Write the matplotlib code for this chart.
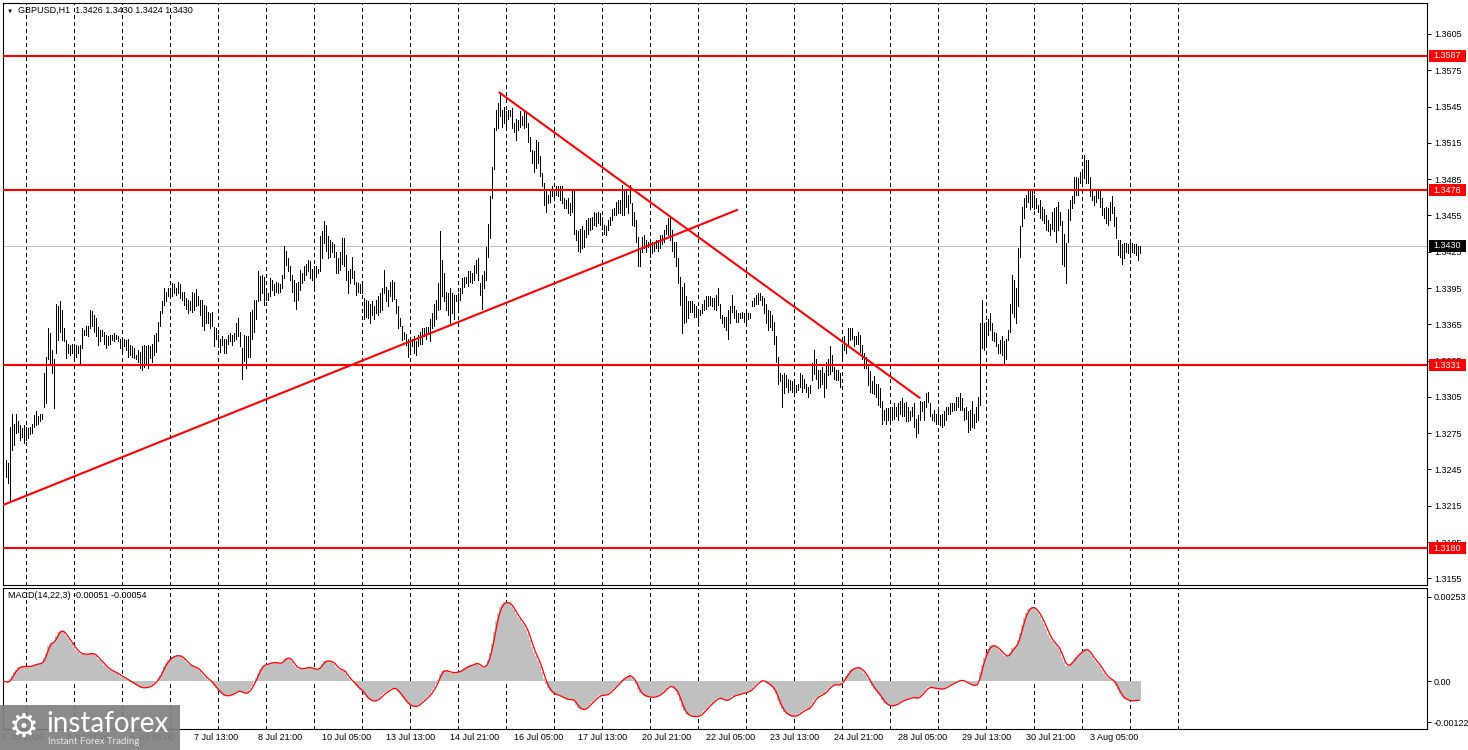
import numpy as np
import pandas as pd
import matplotlib
matplotlib.use("Agg")
from matplotlib import pyplot as plt
from matplotlib.patches import Rectangle
from matplotlib.transforms import blended_transform_factory

# H1 bars, values in pips above 1.3000, bar 0 = 1 Jul 13:00
hi_w1 = [256, 253, 250, 280, 291, 283, 291, 285, 282, 279, 282, 280, 279, 280, 283, 290, 293, 289, 291, 291,
         325, 338, 362, 358, 344, 336, 382, 380, 384, 377, 362, 352, 349, 348, 349, 348, 348, 347, 348, 362,
         360, 364, 364, 377, 376, 373, 370, 363, 360, 360, 359, 356, 355, 356, 356, 358, 356, 355, 353]
lo_w1 = [243, 239, 234, 218, 261, 265, 275, 276, 269, 272, 267, 269, 271, 274, 275, 280, 282, 283, 285, 287,
         297, 300, 336, 333, 325, 296, 341, 352, 359, 352, 351, 337, 341, 340, 341, 337, 338, 341, 333, 345,
         356, 356, 355, 362, 364, 359, 355, 348, 351, 355, 349, 345, 348, 349, 352, 351, 353, 351, 345]
cl_w1 = [248, 245, 238, 275, 270, 280, 278, 280, 272, 276, 272, 276, 274, 278, 281, 288, 285, 287, 289, 290,
         320, 335, 350, 340, 330, 330, 372, 370, 365, 358, 354, 343, 345, 343, 346, 341, 344, 345, 345, 358,
         358, 360, 362, 372, 368, 366, 358, 355, 357, 356, 352, 350, 352, 354, 354, 353, 354, 352, 348]

hi_w2 = [352, 353, 352, 353, 348, 347, 345, 340, 344, 342, 347, 348, 347, 348, 347, 349, 356, 358, 367, 376,
         384, 395, 392, 395, 393, 399, 398, 395, 400, 398, 392, 392, 387, 385, 384, 392, 391, 394, 388, 385,
         385, 381, 380, 375, 374, 375, 363, 362, 356, 353, 355, 353, 353, 356, 358, 356, 358, 366, 370, 359,
         345, 356, 355, 355, 375, 377, 385, 385, 409, 405, 406, 404, 395, 391, 403, 402, 398, 400, 399, 398,
         406, 430, 426, 420, 413, 406, 402, 399, 400, 410, 407, 413, 415, 418, 417, 411, 413, 413, 411, 438,
         442, 450, 447, 438, 435, 433, 431, 425, 420, 425, 436, 436, 422, 409, 411, 421, 409, 400, 399, 398]
lo_w2 = [342, 347, 344, 338, 340, 338, 337, 336, 334, 329, 327, 330, 333, 329, 337, 334, 340, 342, 351, 364,
         374, 381, 384, 388, 387, 388, 391, 389, 391, 387, 385, 381, 378, 374, 377, 375, 377, 380, 381, 373,
         364, 360, 366, 366, 362, 364, 347, 353, 347, 342, 348, 341, 341, 349, 351, 348, 351, 353, 355, 347,
         320, 335, 329, 338, 338, 353, 359, 369, 384, 385, 391, 381, 385, 385, 388, 393, 389, 392, 391, 392,
         395, 403, 414, 409, 402, 392, 384, 378, 385, 393, 399, 402, 406, 409, 403, 402, 396, 404, 407, 409,
         420, 432, 426, 420, 421, 425, 421, 407, 407, 410, 415, 413, 402, 391, 399, 403, 398, 389, 392, 391]
cl_w2 = [348, 350, 347, 342, 344, 341, 339, 338, 337, 333, 340, 336, 342, 340, 345, 347, 352, 356, 364, 372,
         382, 390, 390, 391, 390, 395, 393, 392, 396, 390, 388, 384, 381, 379, 382, 385, 387, 386, 384, 377,
         370, 372, 370, 369, 368, 366, 352, 356, 350, 346, 351, 345, 350, 353, 354, 353, 356, 362, 358, 350,
         338, 345, 350, 345, 370, 370, 380, 382, 400, 398, 396, 392, 390, 388, 398, 396, 394, 395, 394, 396,
         404, 422, 418, 412, 405, 396, 388, 395, 397, 405, 404, 410, 412, 414, 408, 407, 409, 410, 410, 432,
         438, 440, 432, 428, 430, 428, 424, 412, 415, 422, 430, 418, 406, 400, 408, 406, 400, 394, 395, 394]

hi_w3 = [399, 387, 385, 384, 382, 384, 380, 385, 388, 391, 395, 410, 396, 393, 400, 402, 400, 386, 380, 370,
         364, 359, 357, 353, 352, 353, 355, 351, 356, 359, 362, 362, 363, 363, 369, 374, 382, 385, 399, 442,
         418, 407, 392, 391, 395, 391, 389, 389, 391, 395, 403, 404, 404, 409, 409, 407, 414, 418, 420, 399,
         406, 409, 429, 448, 471, 495, 527, 542, 548, 556, 542, 545, 541, 542, 542, 544, 531, 535, 534, 541,
         537, 541, 541, 531, 520, 509, 508, 517, 516, 504, 490, 482, 476, 472, 477, 479, 477, 479, 479, 479,
         479, 469, 468, 469, 465, 475, 477, 443, 442, 444, 446, 443, 451, 453, 453, 454, 458, 457, 458, 457]
lo_w3 = [391, 369, 371, 370, 366, 373, 369, 374, 373, 375, 377, 391, 384, 380, 388, 384, 386, 374, 362, 364,
         352, 353, 348, 338, 342, 347, 341, 340, 347, 349, 349, 355, 353, 358, 351, 362, 364, 369, 377, 378,
         388, 384, 377, 373, 366, 374, 369, 384, 377, 385, 391, 396, 399, 397, 400, 399, 402, 407, 402, 389,
         378, 395, 402, 421, 436, 469, 493, 526, 527, 537, 528, 531, 526, 535, 537, 527, 524, 517, 526, 528,
         530, 527, 528, 516, 508, 498, 491, 494, 498, 488, 479, 464, 458, 465, 466, 471, 469, 472, 471, 468,
         465, 461, 461, 457, 455, 458, 440, 435, 426, 425, 428, 429, 437, 440, 443, 444, 447, 446, 449, 447]
cl_w3 = [393, 376, 378, 374, 378, 376, 378, 382, 385, 388, 392, 394, 388, 390, 396, 392, 388, 378, 366, 366,
         356, 355, 350, 345, 348, 350, 346, 348, 354, 356, 358, 358, 360, 361, 365, 370, 378, 382, 395, 410,
         395, 390, 380, 385, 375, 386, 386, 387, 389, 393, 400, 402, 402, 405, 406, 405, 412, 415, 405, 394,
         402, 405, 425, 445, 468, 492, 525, 535, 540, 540, 535, 538, 535, 538, 540, 530, 528, 530, 532, 538,
         534, 538, 532, 520, 510, 502, 505, 510, 502, 492, 482, 468, 470, 470, 474, 475, 474, 476, 474, 470,
         468, 464, 465, 462, 462, 472, 445, 438, 432, 440, 434, 440, 446, 450, 450, 452, 455, 452, 454, 450]

hi_w4 = [454, 447, 446, 451, 454, 460, 461, 466, 468, 468, 480, 476, 475, 472, 480, 465, 458, 451, 437, 428,
         437, 439, 435, 433, 435, 433, 433, 435, 435, 439, 439, 443, 447, 453, 453, 443, 433, 433, 420, 404,
         396, 399, 388, 384, 384, 384, 382, 380, 377, 377, 382, 385, 388, 388, 388, 387, 387, 389, 395, 382,
         373, 371, 371, 377, 380, 389, 380, 377, 374, 374, 375, 374, 377, 374, 374, 384, 387, 389, 391, 391,
         388, 387, 382, 377, 376, 373, 367, 355, 338, 325, 323, 325, 323, 320, 319, 318, 319, 315, 316, 325,
         323, 320, 316, 313, 315, 333, 344, 336, 327, 327, 330, 325, 334, 336, 347, 340, 330, 327, 327, 325]
lo_w4 = [444, 440, 439, 443, 447, 451, 455, 455, 457, 457, 455, 455, 462, 457, 465, 447, 446, 433, 413, 413,
         425, 428, 425, 429, 421, 424, 426, 428, 426, 428, 431, 433, 440, 439, 435, 426, 421, 413, 399, 381,
         358, 366, 367, 370, 375, 375, 371, 371, 364, 373, 374, 377, 378, 380, 381, 380, 378, 377, 381, 370,
         366, 363, 360, 353, 366, 375, 370, 367, 367, 370, 370, 367, 366, 369, 370, 380, 380, 382, 382, 385,
         381, 374, 366, 360, 363, 360, 349, 334, 316, 318, 297, 308, 313, 309, 311, 309, 308, 309, 311, 313,
         309, 312, 309, 305, 308, 319, 324, 320, 312, 313, 316, 305, 312, 323, 324, 326, 320, 319, 319, 313]
cl_w4 = [446, 442, 444, 450, 452, 458, 458, 462, 464, 466, 470, 470, 468, 470, 468, 450, 448, 436, 418, 425,
         432, 430, 430, 431, 428, 430, 430, 432, 432, 436, 438, 442, 445, 448, 440, 430, 425, 418, 402, 385,
         370, 380, 375, 378, 380, 378, 376, 374, 375, 376, 380, 383, 384, 385, 384, 384, 385, 387, 384, 372,
         368, 366, 365, 372, 378, 378, 374, 372, 370, 372, 372, 370, 372, 372, 374, 382, 385, 386, 388, 387,
         384, 378, 370, 366, 368, 364, 352, 338, 320, 320, 315, 316, 318, 314, 314, 312, 314, 312, 314, 320,
         316, 314, 312, 309, 312, 328, 332, 325, 318, 322, 320, 318, 330, 330, 335, 332, 325, 324, 322, 320]

hi_w5 = [345, 355, 349, 362, 362, 362, 355, 355, 359, 356, 348, 341, 338, 331, 326, 318, 322, 316, 316, 312,
         302, 294, 296, 296, 294, 297, 300, 297, 300, 302, 304, 300, 301, 297, 293, 297, 300, 287, 290, 302,
         301, 302, 308, 309, 300, 291, 294, 291, 293, 290, 291, 293, 297, 297, 300, 300, 300, 305, 305, 308,
         304, 296, 297, 293, 294, 302, 291, 297, 305, 366, 385, 366, 367, 369, 374, 366, 359, 358, 349, 352,
         355, 351, 353, 360, 382, 406, 402, 395, 428, 446, 462, 469, 472, 475, 476, 475, 472, 469, 464, 468,
         462, 460, 455, 451, 448, 458, 461, 462, 466, 458, 450, 440, 432, 460, 468, 471, 487, 487, 486, 491]
lo_w5 = [336, 344, 341, 349, 352, 353, 347, 349, 349, 342, 336, 329, 329, 315, 309, 308, 307, 305, 298, 297,
         283, 286, 283, 286, 286, 286, 287, 289, 286, 291, 289, 289, 285, 285, 286, 289, 280, 272, 275, 286,
         293, 286, 297, 301, 289, 286, 285, 283, 286, 282, 280, 282, 286, 291, 291, 293, 294, 294, 297, 294,
         294, 286, 287, 276, 278, 280, 279, 284, 286, 298, 345, 344, 346, 356, 360, 352, 351, 347, 341, 341,
         340, 333, 336, 352, 359, 374, 371, 366, 380, 421, 446, 453, 462, 466, 460, 462, 460, 461, 458, 453,
         451, 449, 443, 442, 439, 444, 442, 433, 443, 447, 415, 413, 399, 433, 451, 461, 465, 472, 472, 482]
cl_w5 = [342, 350, 346, 358, 356, 355, 350, 352, 354, 345, 340, 334, 332, 320, 315, 312, 312, 310, 305, 302,
         288, 290, 290, 290, 290, 292, 294, 292, 296, 298, 294, 295, 290, 292, 290, 294, 284, 278, 286, 296,
         296, 300, 305, 302, 291, 289, 288, 287, 288, 285, 288, 290, 294, 295, 297, 296, 298, 300, 302, 298,
         296, 290, 290, 282, 288, 285, 286, 294, 300, 360, 355, 360, 362, 365, 362, 356, 354, 350, 345, 348,
         344, 340, 350, 358, 378, 395, 380, 385, 422, 440, 458, 465, 468, 470, 468, 470, 466, 464, 462, 458,
         455, 452, 448, 446, 444, 452, 455, 458, 452, 450, 420, 430, 428, 455, 464, 468, 480, 480, 484, 488]

hi_w6 = [493, 505, 501, 501, 487, 476, 471, 475, 476, 476, 469, 461, 462, 461, 466, 471, 462, 454, 435, 435,
         431, 432, 432, 431, 432, 432, 431, 431, 430, 430]
lo_w6 = [483, 486, 482, 482, 471, 468, 464, 466, 469, 462, 455, 453, 449, 447, 451, 457, 446, 436, 422, 421,
         415, 420, 425, 424, 421, 425, 424, 422, 418, 424]
cl_w6 = [490, 495, 490, 485, 474, 470, 468, 472, 472, 465, 458, 456, 455, 455, 462, 460, 450, 438, 428, 426,
         425, 428, 428, 428, 427, 429, 427, 426, 426, 430]

levels = [1.3587, 1.3476, 1.3331, 1.3180]
last_price = 1.3430
up_trend = [(-0.25, 1.32156), (366.75, 1.34595)]     # (bar, price)
down_trend = [(248.0, 1.35565), (458.0, 1.33043)]
price_ticks = [1.3605, 1.3575, 1.3545, 1.3515, 1.3485, 1.3455, 1.3425, 1.3395,
               1.3365, 1.3335, 1.3305, 1.3275, 1.3245, 1.3215, 1.3185, 1.3155]
macd_ticks = [0.00253, 0.0, -0.00122]
macd_tick_labels = ["0.00253", "0.00", "-0.00122"]
time_labels = ["1 Jul 2026", "2 Jul 21:00", "6 Jul 05:00", "7 Jul 13:00", "8 Jul 21:00",
               "10 Jul 05:00", "13 Jul 13:00", "14 Jul 21:00", "16 Jul 05:00", "17 Jul 13:00",
               "20 Jul 21:00", "22 Jul 05:00", "23 Jul 13:00", "24 Jul 21:00", "28 Jul 05:00",
               "29 Jul 13:00", "30 Jul 21:00", "3 Aug 05:00"]
header = "GBPUSD,H1  1.3426 1.3430 1.3424 1.3430"
macd_header = "MACD(14,22,3) -0.00051 -0.00054"

W, H = 1468, 750
plt.rcParams['font.family'] = ['Liberation Sans', 'DejaVu Sans']
plt.rcParams['font.size'] = 6.5

hi = 1.3 + np.array(hi_w1 + hi_w2 + hi_w3 + hi_w4 + hi_w5 + hi_w6) / 10000
lo = 1.3 + np.array(lo_w1 + lo_w2 + lo_w3 + lo_w4 + lo_w5 + lo_w6) / 10000
cl = 1.3 + np.array(cl_w1 + cl_w2 + cl_w3 + cl_w4 + cl_w5 + cl_w6) / 10000
idx = np.arange(len(cl))

close = pd.Series(cl)
macd = close.ewm(span=14, adjust=False).mean() - close.ewm(span=22, adjust=False).mean()
signal = macd.rolling(3, min_periods=1).mean()

fig = plt.figure(figsize=(W / 100, H / 100), dpi=100)
fig.patch.set_facecolor('white')
ax = fig.add_axes([3 / W, 1 - 585 / H, 1424 / W, 582 / H])
mx = fig.add_axes([3 / W, 1 - 729 / H, 1424 / W, 141 / H], sharex=ax)

x_right = 711.75
ax.set_xlim(-0.25, x_right)
ax.set_ylim(1.31495, 1.36306)

# day separators (only up to one day past the last bar, like the terminal)
for d in range(11, len(cl) + 24, 24):
    for a in (ax, mx):
        a.axvline(d, color='black', lw=0.72, ls=(0, (3, 3)), antialiased=False, zorder=1)

ax.axhline(last_price, color='#c0c0c0', lw=0.72, zorder=2)
ax.vlines(idx, lo, hi, color='black', lw=0.72, antialiased=False, zorder=3)
for lv in levels:
    ax.axhline(lv, color='red', lw=1.5, zorder=4)
for tl in (up_trend, down_trend):
    ax.plot([p[0] for p in tl], [p[1] for p in tl], color='red', lw=1.5, zorder=4)

ax.yaxis.tick_right()
ax.set_yticks(price_ticks)
ax.set_yticklabels([f"{t:.4f}" for t in price_ticks])
ax.tick_params(axis='y', direction='out', length=3, width=0.7, pad=2, labelsize=6.5)
ax.tick_params(axis='x', bottom=False, labelbottom=False)

# MACD pane
mx.bar(idx, macd, width=1.0, color='#c0c0c0', linewidth=0, zorder=2)
mx.plot(idx, signal, color='red', lw=0.9, zorder=3)
span = macd_ticks[0] - macd_ticks[2]
mx.set_ylim(macd_ticks[2] - span * 7 / 130, macd_ticks[0] + span * 9 / 130)
mx.yaxis.tick_right()
mx.set_yticks(macd_ticks)
mx.set_yticklabels(macd_tick_labels)
mx.tick_params(axis='y', direction='out', length=3, width=0.7, pad=2, labelsize=6.5)
mx.tick_params(axis='x', bottom=False, labelbottom=False)

for a in (ax, mx):
    for s in a.spines.values():
        s.set_linewidth(0.8)
        s.set_color('black')

tr = blended_transform_factory(mx.transData, fig.transFigure)
for k, lab in enumerate(time_labels):
    mx.text(32 * k - 0.5, 1 - 738 / H, lab, transform=tr, ha='left', va='center',
            fontsize=6.5, clip_on=False)

fig.canvas.draw()


def price_box(price, text, color):
    yd = ax.transData.transform((0, price))[1] / H
    fig.add_artist(Rectangle((1429 / W, yd - 6 / H), 37 / W, 12 / H, transform=fig.transFigure,
                             facecolor=color, edgecolor='none', zorder=5))
    fig.text(1447.5 / W, yd, text, ha='center', va='center', color='white', fontsize=6.5, zorder=6)


for lv in levels:
    price_box(lv, f"{lv:.4f}", 'red')
price_box(last_price, f"{last_price:.4f}", 'black')

fig.text(9.5 / W, 1 - 11 / H, '\u25bc', ha='center', va='center', fontsize=4.5)
fig.text(18 / W, 1 - 10.5 / H, header, ha='left', va='center', fontsize=6.5)
fig.text(8 / W, 1 - 596 / H, macd_header, ha='left', va='center', fontsize=6.5)

# watermark
fig.add_artist(Rectangle((0, 0), 180 / W, 45 / H, transform=fig.transFigure,
                         facecolor='#808080', edgecolor='none', alpha=0.92, zorder=7))
fig.text(24 / W, 1 - 727 / H, '\u2699', ha='center', va='center', fontsize=24,
         color='white', family=['DejaVu Sans'], zorder=8)
fig.text(46 / W, 1 - 724 / H, 'instaforex', ha='left', va='center', fontsize=20,
         color='white', family=['Lato', 'DejaVu Sans'], zorder=8)
fig.text(48 / W, 1 - 741 / H, 'Instant Forex Trading', ha='left', va='center', fontsize=7,
         color='#e8e8e8', family=['Lato', 'DejaVu Sans'], zorder=8)

fig.savefig('out.png', dpi=100, facecolor='white')
